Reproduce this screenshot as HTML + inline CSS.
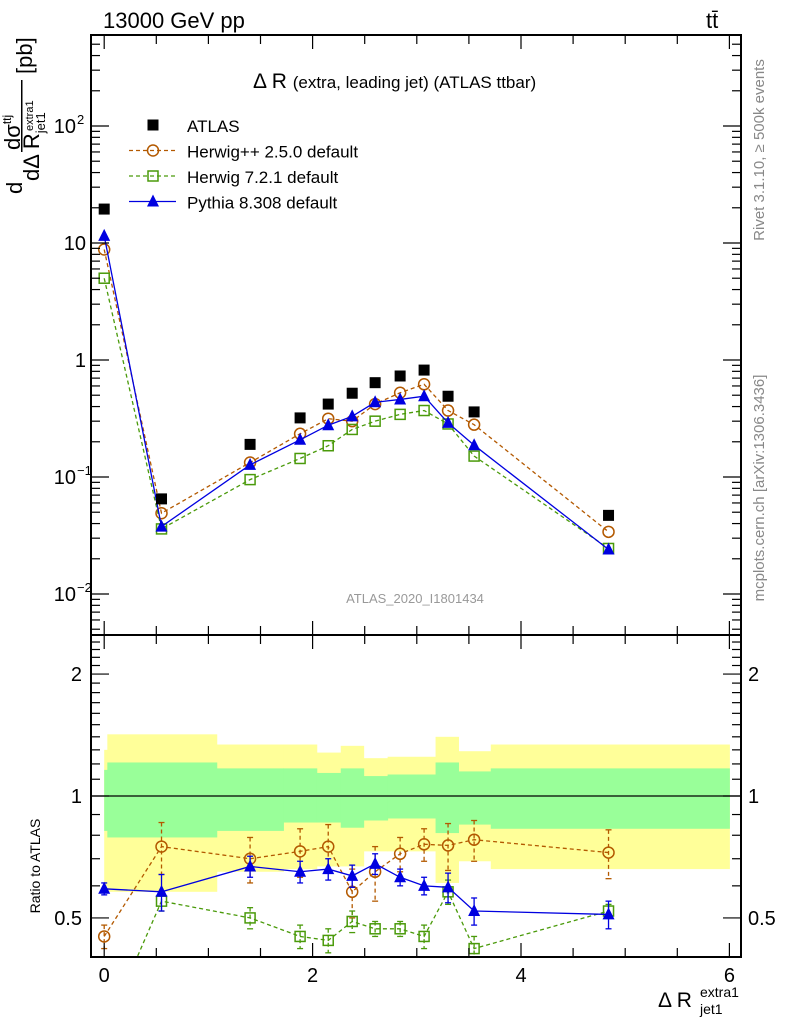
<!DOCTYPE html>
<html><head><meta charset="utf-8"><style>
body{margin:0;background:#fff}
svg{display:block;font-family:"Liberation Sans",sans-serif}
</style></head><body>
<svg id="c" width="786" height="1024" viewBox="0 0 786 1024" xmlns="http://www.w3.org/2000/svg">
<g id="bands"></g>
<g id="marks"></g>
<g id="axes"></g>
<text x="103" y="28" font-size="22">13000 GeV pp</text>
<text x="706" y="28" font-size="22">tt̄</text>
<text x="253" y="88" font-size="21">Δ R <tspan font-size="17">(extra, leading jet) (ATLAS ttbar)</tspan></text>
<text x="415" y="603" font-size="13" fill="#999" text-anchor="middle">ATLAS_2020_I1801434</text>
<text transform="translate(764,150) rotate(-90)" font-size="15" fill="#888" text-anchor="middle">Rivet 3.1.10, ≥ 500k events</text>
<text transform="translate(764,488) rotate(-90)" font-size="15" fill="#888" text-anchor="middle">mcplots.cern.ch [arXiv:1306.3436]</text>
<text transform="translate(40,866) rotate(-90)" font-size="14" text-anchor="middle">Ratio to ATLAS</text>
<g font-size="22">
<text transform="translate(22,194) rotate(-90)">d</text>
<text transform="translate(20,150) rotate(-90)">dσ<tspan font-size="12" dy="-9">ttj</tspan></text>
<rect x="21" y="80" width="1.5" height="72" fill="#000"/>
<text transform="translate(32,74) rotate(-90)">[pb]</text>
<text transform="translate(39,181) rotate(-90)">dΔ R<tspan font-size="13" dy="6">jet1</tspan></text>
<text transform="translate(33,131) rotate(-90)" font-size="11">extra1</text>
</g>
<g>
<text x="658" y="1007" font-size="21">Δ R</text>
<text x="700" y="1014" font-size="14">jet1</text>
<text x="700" y="997" font-size="14">extra1</text>
</g>
<g id="legend"></g>
</svg>
<script>
const xs=[0.0,0.55,1.4,1.88,2.15,2.38,2.6,2.84,3.07,3.3,3.55,4.84];
const atlas=[19.5,0.065,0.19,0.32,0.42,0.52,0.64,0.73,0.82,0.49,0.36,0.047];
const herwigpp=[8.8,0.049,0.133,0.234,0.315,0.30,0.42,0.525,0.62,0.37,0.28,0.034];
const herwig7=[5.0,0.036,0.095,0.144,0.185,0.255,0.30,0.343,0.37,0.284,0.151,0.0245];
const pythia=[11.5,0.0377,0.127,0.208,0.277,0.33,0.435,0.46,0.49,0.29,0.187,0.024];
const rHpp=[0.45,0.75,0.70,0.73,0.75,0.58,0.65,0.72,0.76,0.755,0.78,0.725];
const rH7=[0.26,0.55,0.50,0.45,0.44,0.49,0.47,0.47,0.45,0.58,0.42,0.52];
const rPy=[0.59,0.58,0.67,0.65,0.66,0.635,0.68,0.63,0.60,0.595,0.52,0.51];
const errHpp=[0.03,0.11,0.09,0.10,0.10,0.08,0.10,0.07,0.07,0.10,0.09,0.10];
const errPy=[0.02,0.06,0.04,0.04,0.04,0.04,0.04,0.03,0.03,0.05,0.04,0.04];
const errH7=[0.02,0.03,0.03,0.03,0.03,0.03,0.02,0.02,0.03,0.04,0.03,0.02];
const binEdges=[0,0.03,1.08,1.72,2.04,2.27,2.49,2.72,3.18,3.40,3.71,6.0];
const yellowHi=[1.30,1.42,1.34,1.34,1.28,1.33,1.24,1.25,1.40,1.29,1.34];
const greenHi=[1.16,1.21,1.17,1.17,1.14,1.17,1.12,1.13,1.21,1.15,1.17];
const greenLo=[0.82,0.79,0.82,0.86,0.86,0.835,0.87,0.88,0.81,0.85,0.83];
const yellowLo=[0.60,0.58,0.65,0.66,0.67,0.67,0.73,0.73,0.61,0.69,0.66];
const xTicks=[0,2,4,6];
const yMainTicks=[{v:0.01,t:"10",e:"−2"},{v:0.1,t:"10",e:"−1"},{v:1,t:"1",e:""},{v:10,t:"10",e:""},{v:100,t:"10",e:"2"}];
const yRatioTicks=[0.5,1,2];

const NS="http://www.w3.org/2000/svg";
const L=91,R=741,T=35,M=635,B=957;
const X=v=>104.2+104.2*v;
const Y=v=>360-117*Math.log10(v);
const YR=v=>796-405*Math.log10(v);
function el(tag,attrs,parent){const e=document.createElementNS(NS,tag);for(const k in attrs)e.setAttribute(k,attrs[k]);parent.appendChild(e);return e;}
const bands=document.getElementById('bands'),marks=document.getElementById('marks'),axes=document.getElementById('axes'),leg=document.getElementById('legend');

for(let i=0;i<binEdges.length-1;i++){
  const x0=X(binEdges[i]),w=X(binEdges[i+1])-x0;
  let r=el('rect',{x:x0,y:YR(yellowHi[i]),width:w+0.5,height:YR(yellowLo[i])-YR(yellowHi[i]),fill:'#ffff99'},bands);
  
  
}
for(let i=0;i<binEdges.length-1;i++){
  const x0=X(binEdges[i]),w=X(binEdges[i+1])-x0;
  let r=el('rect',{x:x0,y:YR(greenHi[i]),width:w+0.5,height:YR(greenLo[i])-YR(greenHi[i]),fill:'#99ff99'},bands);
  
  
}
let one=el('line',{x1:L,x2:R,y1:YR(1),y2:YR(1),stroke:'#000','stroke-width':1.3},bands);



const defs=el('defs',{},document.getElementById('c'));
const cp=el('clipPath',{id:'cr'},defs);el('rect',{x:L,y:M,width:R-L,height:B-M},cp);
const cm=el('clipPath',{id:'cm'},defs);el('rect',{x:L,y:T,width:R-L,height:M-T},cm);
const gMain=el('g',{'clip-path':'url(#cm)'},marks);
const gRat=el('g',{'clip-path':'url(#cr)'},marks);

function marker(type,x,y,col,g){
  let m;
  if(type==='sq') m=el('rect',{x:x-5.5,y:y-5.5,width:11,height:11,fill:'#000'},g);
  if(type==='osq') m=el('rect',{x:x-5,y:y-5,width:10,height:10,fill:'none',stroke:col,'stroke-width':1.5},g);
  if(type==='oc') m=el('circle',{cx:x,cy:y,r:5.5,fill:'none',stroke:col,'stroke-width':1.5},g);
  if(type==='tri') m=el('polygon',{points:`${x},${y-7} ${x-6},${y+5} ${x+6},${y+5}`,fill:col},g);
  return m;
}
function series(vals,fy,type,col,dash,g,name,errs){
  const pts=xs.map((x,i)=>X(x)+','+fy(vals[i])).join(' ');
  let pl=el('polyline',{points:pts,fill:'none',stroke:col,'stroke-width':1.3,'stroke-dasharray':dash},g);
  
  
  xs.forEach((x,i)=>{
    if(errs){
      const y1=fy(vals[i]+errs[i]),y2=fy(Math.max(vals[i]-errs[i],0.01));
      let e=el('line',{x1:X(x),x2:X(x),y1:y1,y2:y2,stroke:col,'stroke-width':1.3,'stroke-dasharray':dash},g);
      
      
      el('line',{x1:X(x)-3,x2:X(x)+3,y1:y1,y2:y1,stroke:col,'stroke-width':1.3},g);
      el('line',{x1:X(x)-3,x2:X(x)+3,y1:y2,y2:y2,stroke:col,'stroke-width':1.3},g);
    }
    const m=marker(type,X(x),fy(vals[i]),col,g);
    
    
  });
}
series(herwigpp,Y,'oc','#b35900','4,3',gMain,'herwigpp');
series(herwig7,Y,'osq','#4a9a0a','4,3',gMain,'herwig7');
series(pythia,Y,'tri','#0000e0','',gMain,'pythia');
xs.forEach((x,i)=>{const m=marker('sq',X(x),Y(atlas[i]),'#000',gMain);
  
  });
series(rHpp,YR,'oc','#b35900','4,3',gRat,'herwigpp-ratio',errHpp);
series(rH7,YR,'osq','#4a9a0a','4,3',gRat,'herwig7-ratio',errH7);
series(rPy,YR,'tri','#0000e0','',gRat,'pythia-ratio',errPy);

el('rect',{x:L,y:T,width:R-L,height:B-T,fill:'none',stroke:'#000','stroke-width':2},axes);
el('line',{x1:L,x2:R,y1:M,y2:M,stroke:'#000','stroke-width':2},axes);
for(let v=-0.1;v<=6.2;v+=0.1){
  const vv=Math.round(v*10)/10, x=X(vv); if(x<L||x>R)continue;
  const major=Math.abs(vv%2)<1e-6, half=Math.abs((vv*2)%1)<1e-6;
  const len=major?14:(half?9:5);
  if(!half&&!major)continue;
  el('line',{x1:x,x2:x,y1:T,y2:T+len,stroke:'#000','stroke-width':1.2},axes);
  el('line',{x1:x,x2:x,y1:M,y2:M+len,stroke:'#000','stroke-width':1.2},axes);
  el('line',{x1:x,x2:x,y1:B,y2:B-len,stroke:'#000','stroke-width':1.2},axes);
  el('line',{x1:x,x2:x,y1:M,y2:M-len,stroke:'#000','stroke-width':1.2},axes);
}
xTicks.forEach(v=>{let t=el('text',{x:X(v),y:982,'font-size':20,'text-anchor':'middle'},axes);t.textContent=v;
  
  });
for(let d=-3;d<=2;d++)for(let k=1;k<10;k++){
  const v=k*Math.pow(10,d),y=Y(v); if(y<T||y>M)continue;
  const len=k===1?18:9;
  el('line',{x1:L,x2:L+len,y1:y,y2:y,stroke:'#000','stroke-width':1.2},axes);
  el('line',{x1:R,x2:R-len,y1:y,y2:y,stroke:'#000','stroke-width':1.2},axes);
}
yMainTicks.forEach(o=>{let t=el('text',{x:o.e?76:86,y:Y(o.v)+7,'font-size':20,'text-anchor':'end'},axes);t.textContent=o.t;
  
  
  if(o.e){let s=el('text',{x:77,y:Y(o.v)-2,'font-size':13},axes);s.textContent=o.e;}});
for(let v=0.4;v<=2.5;v+=0.1){const vv=Math.round(v*10)/10,y=YR(vv);if(y<M||y>B)continue;
  const len=(vv===0.5||vv===1||vv===2)?18:9;
  el('line',{x1:L,x2:L+len,y1:y,y2:y,stroke:'#000','stroke-width':1.2},axes);
  el('line',{x1:R,x2:R-len,y1:y,y2:y,stroke:'#000','stroke-width':1.2},axes);}
yRatioTicks.forEach(v=>{let t=el('text',{x:82,y:YR(v)+7,'font-size':20,'text-anchor':'end'},axes);t.textContent=v;
  
  
  let t2=el('text',{x:748,y:YR(v)+7,'font-size':20},axes);t2.textContent=v;
  
  });
const legItems=[['ATLAS','sq','#000',''],['Herwig++ 2.5.0 default','oc','#b35900','4,3'],['Herwig 7.2.1 default','osq','#4a9a0a','4,3'],['Pythia 8.308 default','tri','#0000e0','']];
legItems.forEach((it,i)=>{const y=125+25.5*i;
  const g=el('g',{},leg);
  
  
  if(it[1]!=='sq')el('line',{x1:129,x2:176,y1:y,y2:y,stroke:it[2],'stroke-width':1.3,'stroke-dasharray':it[3]},g);
  marker(it[1],153,y,it[2],g);
  const t=el('text',{x:187,y:y+7,'font-size':17},g);t.textContent=it[0];});
</script>
</body></html>
